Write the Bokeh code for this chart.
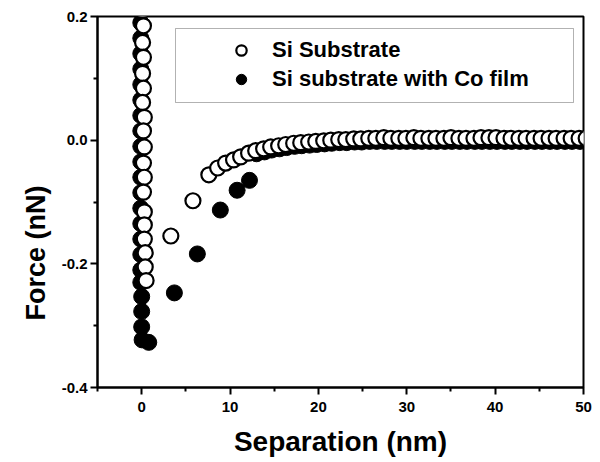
from bokeh.plotting import figure
from bokeh.models import FixedTicker, Legend, LegendItem, Range1d, Title, BoxAnnotation
from bokeh.embed import file_html
from bokeh.resources import INLINE

# ---- data ----
si_x = [0.1, 0.2, 0.1, 0.2, 0.1, 0.2, 0.1, 0.3, 0.2, 0.3, 0.2, 0.3, 0.2, 0.3, 0.3, 0.3, 0.4, 0.4, 0.5,
        3.3, 5.8, 7.6, 8.6, 9.5, 10.4, 11.2, 12.1,
        12.9, 13.8, 14.6, 15.5, 16.3, 17.2, 18.0, 18.9, 19.7, 20.6,
        21.4, 22.3, 23.1, 24.0, 24.8, 25.7, 26.5, 27.4, 28.2, 29.1,
        29.9, 30.8, 31.6, 32.5, 33.3, 34.2, 35.0, 35.9, 36.7, 37.6,
        38.4, 39.3, 40.1, 41.0, 41.8, 42.7, 43.5, 44.4, 45.2, 46.1,
        46.9, 47.8, 48.6, 49.5, 50.3]
si_y = [0.210, 0.185, 0.158, 0.134, 0.108, 0.084, 0.061, 0.037, 0.015, -0.011, -0.037, -0.060, -0.084,
        -0.116, -0.137, -0.160, -0.182, -0.205, -0.227,
        -0.155, -0.098, -0.056, -0.045, -0.037, -0.032, -0.027, -0.021,
        -0.017, -0.014, -0.011, -0.009, -0.007, -0.005, -0.004, -0.003, -0.002, -0.001,
        0.000, 0.001, 0.001, 0.002, 0.002, 0.003, 0.003, 0.004, 0.003, 0.003,
        0.003, 0.004, 0.003, 0.003, 0.003, 0.003, 0.004, 0.003, 0.003, 0.003,
        0.004, 0.004, 0.004, 0.003, 0.003, 0.003, 0.003, 0.003, 0.003, 0.003,
        0.003, 0.003, 0.003, 0.003, 0.003]

co_x = [-0.1, -0.1, -0.1, -0.1, -0.1, -0.1, -0.1, -0.1, -0.1, -0.1, -0.1, -0.1, -0.1, -0.1, -0.1, -0.1,
        -0.1, -0.1, 0.0, 0.0, 0.0, 0.05, 0.8,
        3.7, 6.3, 8.9, 10.8, 12.2,
        13.0, 13.9, 14.7, 15.6, 16.4, 17.3, 18.1, 19.0, 19.8, 20.7,
        21.5, 22.4, 23.2, 24.1, 24.9, 25.8, 26.6, 27.5, 28.3, 29.2,
        30.0, 30.9, 31.7, 32.6, 33.4, 34.3, 35.1, 36.0, 36.8, 37.7,
        38.5, 39.4, 40.2, 41.1, 41.9, 42.8, 43.6, 44.5, 45.3, 46.2,
        47.0, 47.9, 48.7, 49.6]
co_y = [0.19, 0.165, 0.14, 0.115, 0.09, 0.065, 0.04, 0.015, -0.01, -0.035, -0.06, -0.085, -0.11, -0.135,
        -0.16, -0.185, -0.21, -0.23, -0.253, -0.277, -0.302, -0.323, -0.327,
        -0.247, -0.184, -0.113, -0.081, -0.065,
        -0.022, -0.019, -0.016, -0.014, -0.012, -0.010, -0.009, -0.008, -0.007, -0.006,
        -0.005, -0.004, -0.004, -0.003, -0.003, -0.002, -0.002, -0.002, -0.002, -0.002,
        -0.002, -0.002, -0.002, -0.002, -0.002, -0.002, -0.002, -0.002, -0.002, -0.002,
        -0.002, -0.002, -0.002, -0.002, -0.002, -0.002, -0.002, -0.002, -0.002, -0.002,
        -0.002, -0.002, -0.002, -0.002]

series_labels = ["Si Substrate", "Si substrate with Co film"]
x_ticks = [0, 10, 20, 30, 40, 50]
x_minor = [-5, 5, 15, 25, 35, 45]
y_ticks = [-0.4, -0.2, 0.0, 0.2]
y_minor = [-0.3, -0.1, 0.1]
y_tick_labels = {-0.4: "-0.4", -0.2: "-0.2", 0.0: "0.0", 0.2: "0.2"}

FONT = "Liberation Sans"

p = figure(width=600, height=462, output_backend="svg", toolbar_location=None,
           x_range=Range1d(-5, 50), y_range=Range1d(-0.4, 0.2),
           min_border_left=97, min_border_right=17, min_border_top=16, min_border_bottom=75)

r_co = p.scatter(co_x, co_y, size=16, marker="circle", fill_color="black", line_color="black", line_width=1)
r_si = p.scatter(si_x, si_y, size=15, marker="circle", fill_color="white", line_color="black", line_width=2.2)

p.grid.visible = False
p.outline_line_color = "black"
p.outline_line_width = 2
p.outline_line_alpha = 1

for ax in (p.xaxis[0], p.yaxis[0]):
    ax.axis_line_width = 2
    ax.major_tick_line_width = 2
    ax.minor_tick_line_width = 2
    ax.major_tick_in = 0
    ax.major_tick_out = 7
    ax.minor_tick_in = 0
    ax.minor_tick_out = 4
    ax.major_label_text_font = FONT
    ax.major_label_text_font_style = "bold"
    ax.major_label_text_font_size = "15px"
    ax.major_label_text_color = "black"

p.xaxis.ticker = FixedTicker(ticks=x_ticks, minor_ticks=x_minor)
p.yaxis.ticker = FixedTicker(ticks=y_ticks, minor_ticks=y_minor)
p.yaxis.major_label_overrides = y_tick_labels
p.xaxis.major_label_standoff = 7
p.yaxis.major_label_standoff = 3

p.xaxis.axis_label = "Separation (nm)"
p.xaxis.axis_label_text_font = FONT
p.xaxis.axis_label_text_font_style = "bold"
p.xaxis.axis_label_text_font_size = "28px"
p.xaxis.axis_label_text_color = "black"
p.xaxis.axis_label_standoff = 11

ytitle = Title(text="Force (nN)", align="left", offset=67, text_font=FONT,
               text_font_style="bold", text_font_size="27px", text_color="black", standoff=15)
p.add_layout(ytitle, "left")

legend_box = BoxAnnotation(left=78, right=476, bottom=285, top=359,
                           left_units="screen", right_units="screen",
                           bottom_units="screen", top_units="screen",
                           fill_color="white", fill_alpha=1, line_color="black", line_width=1)
p.add_layout(legend_box)

legend = Legend(items=[LegendItem(label=series_labels[0], renderers=[r_si]),
                       LegendItem(label=series_labels[1], renderers=[r_co])],
                location=(78, 260), padding=35, glyph_width=62, glyph_height=26,
                label_height=26, label_standoff=0, spacing=3, margin=0,
                label_text_font=FONT, label_text_font_style="bold", label_text_font_size="22px",
                label_text_color="black", border_line_alpha=0, background_fill_alpha=0)
p.add_layout(legend)

open("out.html", "w").write(file_html(p, INLINE))
